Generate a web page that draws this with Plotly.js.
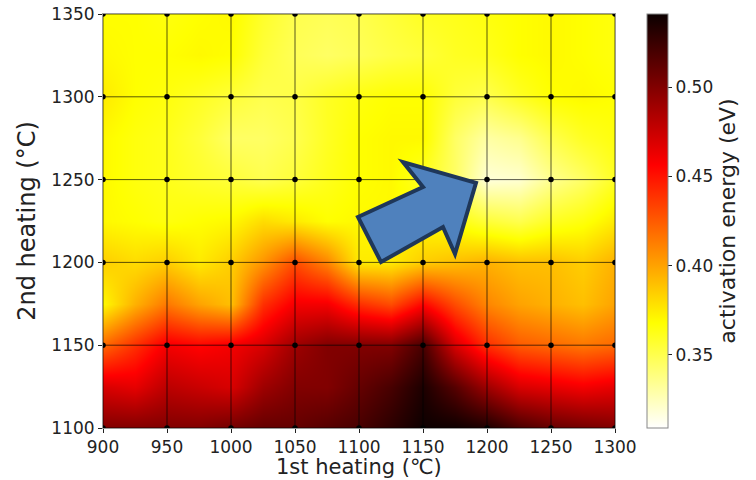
<!DOCTYPE html>
<html>
<head>
<meta charset="utf-8">
<script src="https://cdn.plot.ly/plotly-3.0.1.min.js"></script>
<style>html,body{margin:0;padding:0;background:#fff;}#chart{width:756px;height:480px;}</style>
</head>
<body>
<div id="chart"></div>
<script>
// Sample grid (°C)
const firstHeating = [900,925,950,975,1000,1025,1050,1075,1100,1125,1150,1175,1200,1225,1250,1275,1300];
const secondHeating = [1100,1125,1150,1175,1200,1225,1250,1275,1300,1325,1350];
// Activation energy (eV), one row per 2nd-heating value
const ea1100 = [0.50,0.50,0.50,0.50,0.505,0.51,0.51,0.515,0.52,0.53,0.54,0.54,0.535,0.52,0.51,0.505,0.50];
const ea1125 = [0.47,0.465,0.48,0.475,0.47,0.49,0.50,0.50,0.51,0.52,0.535,0.515,0.49,0.47,0.465,0.46,0.465];
const ea1150 = [0.42,0.44,0.46,0.455,0.46,0.47,0.49,0.50,0.50,0.50,0.52,0.47,0.44,0.425,0.42,0.415,0.42];
const ea1175 = [0.37,0.395,0.415,0.40,0.39,0.44,0.46,0.46,0.44,0.43,0.455,0.43,0.41,0.40,0.395,0.39,0.40];
const ea1200 = [0.385,0.38,0.385,0.375,0.385,0.405,0.43,0.41,0.375,0.375,0.385,0.39,0.395,0.39,0.39,0.385,0.395];
const ea1225 = [0.37,0.368,0.365,0.368,0.37,0.38,0.375,0.368,0.37,0.37,0.37,0.365,0.355,0.35,0.36,0.365,0.375];
const ea1250 = [0.37,0.365,0.362,0.358,0.355,0.35,0.355,0.362,0.368,0.37,0.36,0.345,0.318,0.32,0.335,0.345,0.36];
const ea1275 = [0.37,0.365,0.362,0.355,0.345,0.345,0.35,0.36,0.368,0.37,0.37,0.345,0.33,0.335,0.35,0.36,0.365];
const ea1300 = [0.375,0.368,0.365,0.36,0.355,0.35,0.352,0.36,0.365,0.368,0.368,0.355,0.35,0.36,0.368,0.37,0.368];
const ea1325 = [0.37,0.368,0.368,0.37,0.368,0.355,0.348,0.345,0.348,0.352,0.355,0.36,0.362,0.368,0.37,0.368,0.365];
const ea1350 = [0.368,0.368,0.365,0.368,0.37,0.358,0.35,0.348,0.35,0.355,0.36,0.362,0.365,0.368,0.37,0.368,0.365];
const xTicks = [900,950,1000,1050,1100,1150,1200,1250,1300];
const yTicks = [1100,1150,1200,1250,1300,1350];
const cbTicks = [0.35,0.40,0.45,0.50];
const cbTickText = ['0.35','0.40','0.45','0.50'];
const xTitle = '1st heating (℃)';
const yTitle = '2nd heating (°C)';
const cbTitle = 'activation energy (eV)';

const z = [ea1100,ea1125,ea1150,ea1175,ea1200,ea1225,ea1250,ea1275,ea1300,ea1325,ea1350];
const font = 'DejaVu Sans, Arial, sans-serif';
const txt = '#222';

// matplotlib hot_r
const hotR = [[0,'rgb(255,255,255)'],[0.253968,'rgb(255,255,0)'],[0.634921,'rgb(255,0,0)'],[1,'rgb(11,0,0)']];

const heat = {
  type:'heatmap', x:firstHeating, y:secondHeating, z:z, zsmooth:'best',
  colorscale:hotR, zmin:0.309, zmax:0.541, hoverinfo:'skip',
  colorbar:{
    x:1.0625, xanchor:'left', xref:'paper', xpad:0, ypad:0,
    y:0.5, yanchor:'middle', len:1, lenmode:'fraction',
    thickness:21, outlinecolor:'#888', outlinewidth:1,
    tickvals:cbTicks, ticktext:cbTickText, ticks:'outside', ticklen:4, tickcolor:txt,
    tickfont:{family:font,size:17,color:txt},
    title:{text:cbTitle, side:'right', font:{family:font,size:22,color:txt}}
  }
};

const dx=[], dy=[];
yTicks.forEach(yv=>xTicks.forEach(xv=>{dx.push(xv);dy.push(yv);}));
const dots = {type:'scatter', mode:'markers', x:dx, y:dy, marker:{color:'#000',size:5.5}, hoverinfo:'skip', showlegend:false};

const shapes = [];
xTicks.forEach(v=>shapes.push({type:'line',xref:'x',yref:'paper',x0:v,x1:v,y0:0,y1:1,line:{color:'rgba(0,0,0,0.65)',width:1},layer:'above'}));
yTicks.forEach(v=>shapes.push({type:'line',xref:'paper',yref:'y',x0:0,x1:1,y0:v,y1:v,line:{color:'rgba(0,0,0,0.65)',width:1},layer:'above'}));
// block arrow annotation
shapes.push({type:'path', xref:'x', yref:'y', layer:'above',
  path:'M1099.2,1227.4 L1150,1245.5 L1134.4,1260.6 L1191.4,1248 L1175,1205.1 L1165.6,1221.4 L1117.2,1200.2 Z',
  fillcolor:'#4F81BD', line:{color:'#1F3759', width:4}});

const layout = {
  width:756, height:480,
  margin:{l:103, r:141, t:14, b:52, autoexpand:false},
  paper_bgcolor:'#fff', plot_bgcolor:'#fff',
  font:{family:font, color:txt},
  showlegend:false,
  xaxis:{range:[900,1300], tickvals:xTicks, ticks:'outside', ticklen:4, tickcolor:txt,
    tickfont:{family:font,size:17,color:txt}, showgrid:false, zeroline:false,
    showline:true, mirror:true, linecolor:'#999', linewidth:1, automargin:false},
  yaxis:{range:[1100,1350], tickvals:yTicks, ticks:'outside', ticklen:4, tickcolor:txt,
    tickfont:{family:font,size:17,color:txt}, showgrid:false, zeroline:false,
    showline:true, mirror:true, linecolor:'#999', linewidth:1, automargin:false,
    title:{text:yTitle, font:{family:font,size:24,color:txt}, standoff:8}},
  annotations:[{text:xTitle, xref:'paper', yref:'paper', x:0.5, y:-0.064, xanchor:'center', yanchor:'top',
    showarrow:false, font:{family:font,size:21,color:txt}, borderpad:0}],
  shapes:shapes
};

Plotly.newPlot('chart',[heat,dots],layout,{displayModeBar:false,staticPlot:true});
</script>
</body>
</html>
